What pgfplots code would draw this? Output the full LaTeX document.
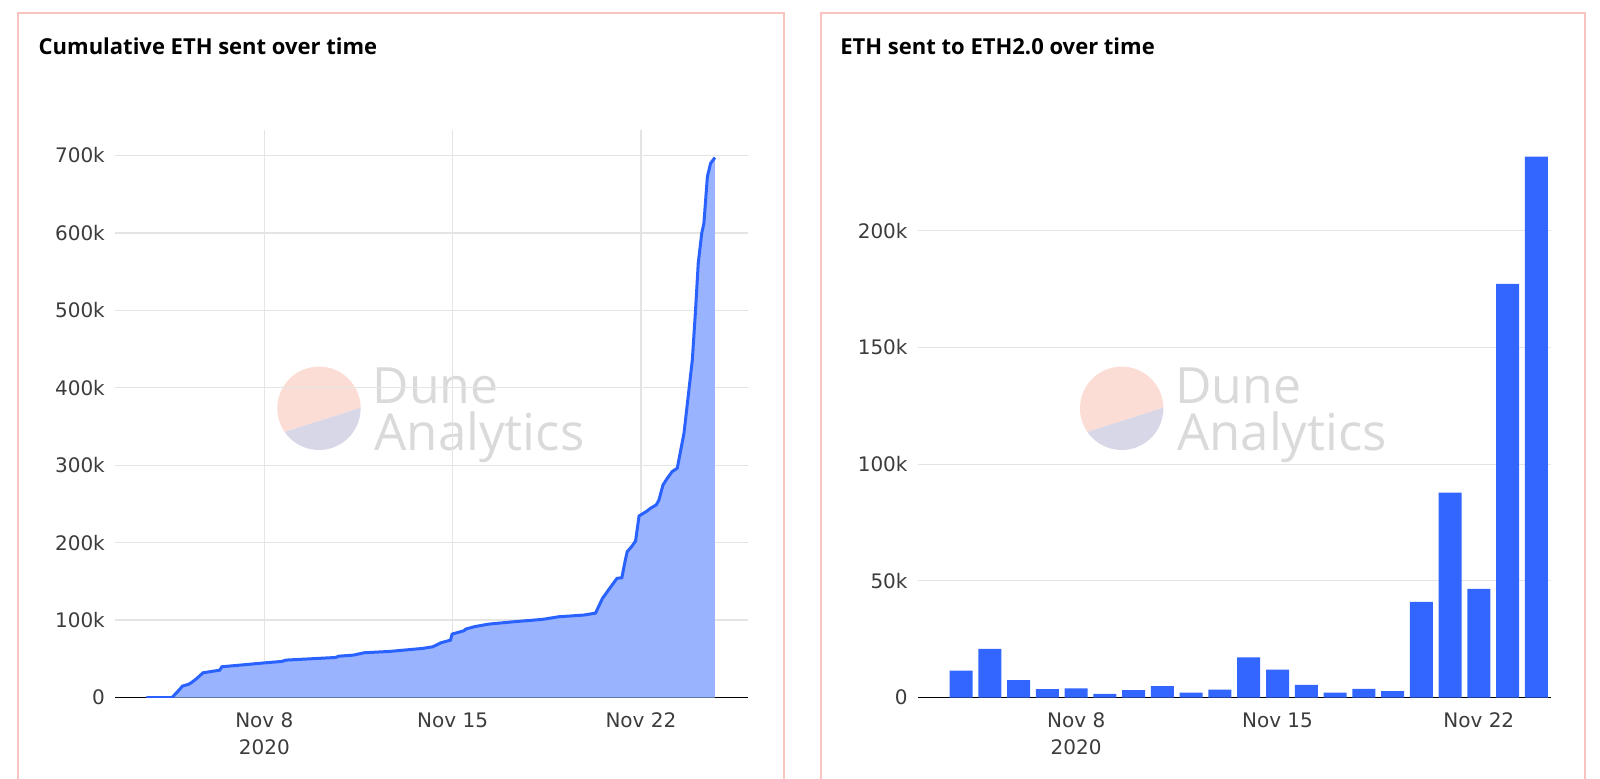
\documentclass[border=0pt]{standalone}
\usepackage{pgfplots}
\pgfplotsset{compat=1.18}
\usepackage{fontspec}
\setmainfont{DejaVu Sans}
\newfontfamily\tickfont{DejaVu Sans}
\newfontfamily\titlefont{Open Sans}
\newfontfamily\wmfont{Open Sans}
\definecolor{boxpink}{RGB}{249,196,192}
\definecolor{linecol}{RGB}{41,98,255}
\definecolor{fillcol}{RGB}{153,179,255}
\definecolor{barcol}{RGB}{51,102,255}
\definecolor{gridcol}{RGB}{228,228,228}
\definecolor{tickcol}{RGB}{60,60,60}
\definecolor{wmpink}{RGB}{251,221,214}
\definecolor{wmlav}{RGB}{216,215,232}
\definecolor{wmtext}{RGB}{218,218,218}

\pgfplotsset{chartbase/.style={
  scale only axis, width=316.35pt, height=284pt, anchor=south west,
  axis x line*=bottom, axis y line*=left,
  y axis line style={draw=none},
  x axis line style={draw=black, line width=0.9pt, -},
  major tick length=0pt, tick style={draw=none},
  major grid style={draw=gridcol, line width=0.6pt},
  ymin=0,
  every tick label/.append style={font=\tickfont\fontsize{10}{13.5}\selectfont, text=tickcol},
  yticklabel style={xshift=-1.7pt},
  xticklabel style={align=center, yshift=-4pt},
}}

\newcommand\watermark[1]{%
  \begin{scope}[xshift=#1]
    \fill[wmpink] (159.5pt,184.85pt) ++(0.8:20.85pt) arc[start angle=0.8, end angle=214.5, radius=20.85pt] -- cycle;
    \fill[wmlav] (159.5pt,184.85pt) ++(214.5:20.85pt) arc[start angle=214.5, end angle=360.8, radius=20.85pt] -- cycle;
    \node[anchor=base west, inner sep=0, text=wmtext, font=\wmfont\fontsize{25}{26}\selectfont] at (186.2pt,187.35pt) {Dune};
    \node[anchor=base west, inner sep=0, text=wmtext, font=\wmfont\fontsize{25.5}{26}\selectfont] at (187pt,164pt) {Analytics};
  \end{scope}}

\begin{document}
\begin{tikzpicture}
\path[use as bounding box] (0,0) rectangle (800pt,389pt);
\draw[boxpink, line width=1pt] (9.15pt,-10pt) -- (9.15pt,382.35pt) -- (392pt,382.35pt) -- (392pt,-10pt);
\draw[boxpink, line width=1pt] (410.5pt,-10pt) -- (410.5pt,382.35pt) -- (792.5pt,382.35pt) -- (792.5pt,-10pt);
\node[anchor=base west, inner sep=0, font=\titlefont\bfseries\fontsize{11}{13}\selectfont] at (19.15pt,361.5pt) {Cumulative ETH sent over time};
\node[anchor=base west, inner sep=0, font=\titlefont\bfseries\fontsize{11}{13}\selectfont] at (420pt,361.5pt) {ETH sent to ETH2.0 over time};
\watermark{0pt}
\watermark{401.35pt}

\begin{axis}[chartbase, at={(57.65pt,40.25pt)},
  xmin=2.46, xmax=25.98, ymax=733.6,
  xtick={8,15,22}, xticklabels={{Nov 8\\2020},{Nov 15},{Nov 22}},
  ytick={0,100,200,300,400,500,600,700},
  yticklabels={0,100k,200k,300k,400k,500k,600k,700k},
  xmajorgrids, ymajorgrids]
\addplot[fill=fillcol, draw=none] coordinates {
(3.615,0) (4.57,0) (4.88,11.6) (4.95,14.7) (5.18,17) (5.28,19) (5.49,24.6) (5.72,31.9)
(6.34,35.3) (6.42,39.7) (8.03,44.8) (8.65,46.6) (8.8,48.3) (10.65,51.7) (10.77,53.4)
(11.3,54.7) (11.72,57.8) (12.65,59.5) (13.88,63.4) (14.26,65.5) (14.57,70.7) (14.92,74.1)
(14.98,81.9) (15.42,86.2) (15.49,88.4) (15.8,91.4) (16.34,94.8) (17.26,97.8) (18.34,100.9)
(18.95,104.3) (19.88,106.5) (20.31,109) (20.57,128) (20.88,143) (21.11,153.9) (21.29,154.7)
(21.42,177.6) (21.49,188.4) (21.65,194.8) (21.8,202) (21.93,234.5) (22.20,240.2) (22.36,244.5)
(22.57,248.8) (22.67,255.2) (22.82,274.6) (22.98,283.2) (23.16,291.8) (23.35,296.1)
(23.60,341.4) (23.91,436) (24.03,500.6) (24.13,560.9) (24.26,599.6) (24.34,612.5)
(24.47,672.8) (24.59,690) (24.75,697.4)} \closedcycle;
\addplot[linecol, line width=1.5pt] coordinates {
(3.615,0) (4.57,0) (4.88,11.6) (4.95,14.7) (5.18,17) (5.28,19) (5.49,24.6) (5.72,31.9)
(6.34,35.3) (6.42,39.7) (8.03,44.8) (8.65,46.6) (8.8,48.3) (10.65,51.7) (10.77,53.4)
(11.3,54.7) (11.72,57.8) (12.65,59.5) (13.88,63.4) (14.26,65.5) (14.57,70.7) (14.92,74.1)
(14.98,81.9) (15.42,86.2) (15.49,88.4) (15.8,91.4) (16.34,94.8) (17.26,97.8) (18.34,100.9)
(18.95,104.3) (19.88,106.5) (20.31,109) (20.57,128) (20.88,143) (21.11,153.9) (21.29,154.7)
(21.42,177.6) (21.49,188.4) (21.65,194.8) (21.8,202) (21.93,234.5) (22.20,240.2) (22.36,244.5)
(22.57,248.8) (22.67,255.2) (22.82,274.6) (22.98,283.2) (23.16,291.8) (23.35,296.1)
(23.60,341.4) (23.91,436) (24.03,500.6) (24.13,560.9) (24.26,599.6) (24.34,612.5)
(24.47,672.8) (24.59,690) (24.75,697.4)};
\end{axis}

\begin{axis}[chartbase, at={(459pt,40.25pt)},
  xmin=2.5, xmax=24.5, ymax=243.4,
  xtick={8,15,22}, xticklabels={{Nov 8\\2020},{Nov 15},{Nov 22}},
  ytick={0,50,100,150,200},
  yticklabels={0,50k,100k,150k,200k},
  ymajorgrids]
\addplot[ybar, bar width=0.8, fill=barcol, draw=none] coordinates {
(4,11.5) (5,20.8) (6,7.4) (7,3.6) (8,3.9) (9,1.6) (10,3.2) (11,4.9) (12,2.1) (13,3.4)
(14,17.2) (15,12.0) (16,5.4) (17,2.1) (18,3.7) (19,2.7) (20,41.0) (21,87.8) (22,46.6)
(23,177.3) (24,231.8)};
\end{axis}
\end{tikzpicture}
\end{document}
